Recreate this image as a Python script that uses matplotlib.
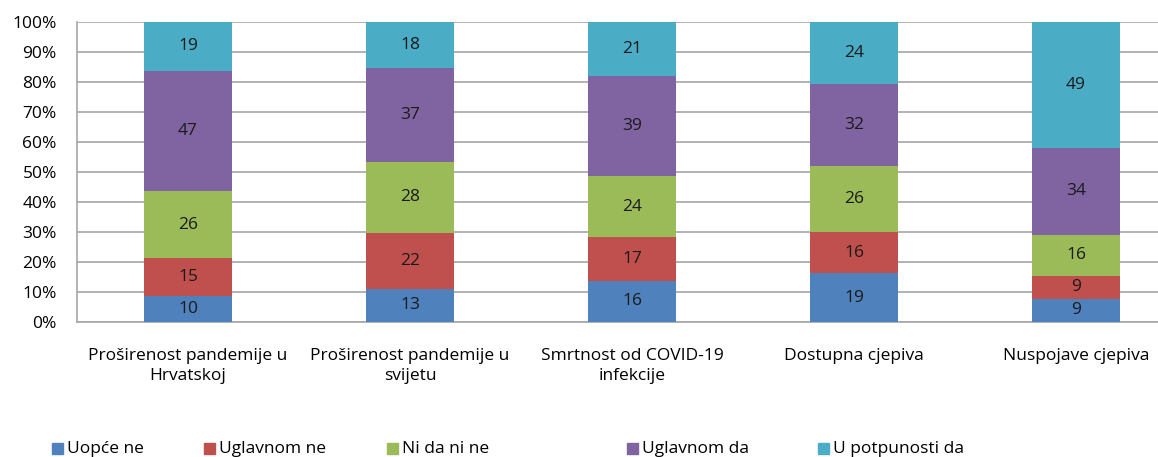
import numpy as np
import matplotlib
matplotlib.use("Agg")
import matplotlib.pyplot as plt
import matplotlib.patches as mpatches

plt.rcParams['font.family'] = ['Open Sans', 'DejaVu Sans']

categories = ["Proširenost pandemije u\nHrvatskoj", "Proširenost pandemije u\nsvijetu",
              "Smrtnost od COVID-19\ninfekcije", "Dostupna cjepiva", "Nuspojave cjepiva"]
series_names = ["Uopće ne", "Uglavnom ne", "Ni da ni ne", "Uglavnom da", "U potpunosti da"]
uopce_ne = [10, 13, 16, 19, 9]
uglavnom_ne = [15, 22, 17, 16, 9]
ni_da_ni_ne = [26, 28, 24, 26, 16]
uglavnom_da = [47, 37, 39, 32, 34]
u_potpunosti_da = [19, 18, 21, 24, 49]
colors = ["#4F81BD", "#C0504D", "#9BBB59", "#8064A2", "#4BACC6"]

series = np.array([uopce_ne, uglavnom_ne, ni_da_ni_ne, uglavnom_da, u_potpunosti_da], dtype=float)
totals = series.sum(axis=0)
shares = series / totals * 100

FS = 12.5
W, H = 1158, 457
fig = plt.figure(figsize=(W / 100, H / 100), dpi=100)
# plot area is cut off on the right in the original
ax = fig.add_axes([77 / W, 1 - 322 / H, 1110 / W, 300 / H])

x = np.arange(len(categories))
bottom = np.zeros(len(categories))
for vals, pct, col in zip(series, shares, colors):
    ax.bar(x, pct, 0.4, bottom=bottom, color=col, zorder=3)
    for xi, b, p, v in zip(x, bottom, pct, vals):
        ax.text(xi, b + p / 2, f"{int(v)}", ha='center', va='center', fontsize=FS, color='#1a1a1a', zorder=4)
    bottom += pct

ax.set_xlim(-0.5, len(categories) - 0.5)
ax.set_ylim(0, 100)
ax.set_yticks(np.arange(0, 101, 10))
ax.set_yticklabels([f"{t}%" for t in range(0, 101, 10)], fontsize=FS)
ax.yaxis.grid(True, color='#a6a6a6', linewidth=1.2, zorder=0)
ax.set_xticks(x)
ax.set_xticklabels(categories, fontsize=FS, linespacing=1.3)
ax.tick_params(axis='y', length=0, pad=14.5)
ax.tick_params(axis='x', length=0, pad=19)
for s in ['top', 'right']:
    ax.spines[s].set_visible(False)
ax.spines['left'].set_color('#a6a6a6')
ax.spines['bottom'].set_color('#a6a6a6')
ax.spines['left'].set_linewidth(1.2)
ax.spines['bottom'].set_linewidth(1.2)

# legend, placed by hand like the original
leg_x = [52, 204, 387, 627, 818]
for lx, name, col in zip(leg_x, series_names, colors):
    fig.patches.append(mpatches.Rectangle((lx / W, 1 - 454 / H), 11 / W, 11 / H,
                                          transform=fig.transFigure, color=col))
    fig.text((lx + 15) / W, 1 - 449 / H, name, fontsize=FS, va='center', ha='left')

fig.savefig("out.png", dpi=100)
